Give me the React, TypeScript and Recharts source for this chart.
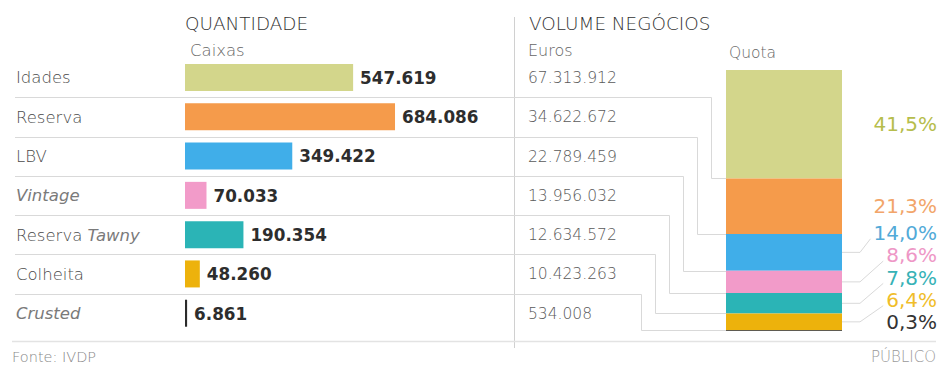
import React from 'react';
import { BarChart, Bar, XAxis, YAxis, Cell, LabelList } from 'recharts';

// ---------- data ----------
const categories = ['Idades', 'Reserva', 'LBV', 'Vintage', 'Reserva Tawny', 'Colheita', 'Crusted'];
const italicParts = ['', '', '', 'Vintage', 'Tawny', '', 'Crusted'];
const caixas = [547619, 684086, 349422, 70033, 190354, 48260, 6861];
const euros = [67313912, 34622672, 22789459, 13956032, 12634572, 10423263, 534008];
const quota = [41.5, 21.3, 14.0, 8.6, 7.8, 6.4, 0.3];

const barColors = ['#d3d68b', '#f59b4b', '#40aee9', '#f29bc9', '#2bb4b6', '#edb20c', '#2b2b2b'];
const pctColors = ['#b6bd4c', '#f2a56a', '#52aad8', '#ee97c6', '#37b2b6', '#f0bd2a', '#333333'];

// ---------- layout ----------
const W = 941;
const H = 367;
const ROW_TOP = 58;
const ROW_BOTTOM = 333;
const BAR_X0 = 185;
const RIGHT_AXIS_W = 449;
const X_MAX = 1000000;
const Q_LEFT = 726;
const Q_TOP = 70;
const Q_W = 116;
const Q_H = 261;
const FONT = '"DejaVu Sans", sans-serif';

const fmt = (n: number) => String(n).replace(/\B(?=(\d{3})+(?!\d))/g, '.');
const fmtPct = (v: number) => v.toFixed(1).replace('.', ',') + '%';

const rows = categories.map((c, i) => ({ name: c, caixas: caixas[i], euros: euros[i] }));
const quotaRow = [
  categories.reduce((acc: any, _c, i) => {
    acc['k' + i] = quota[i];
    return acc;
  }, { name: 'Quota' }),
];
const Q_SUM = quota.reduce((a, b) => a + b, 0);

const CatTick = (props: any) => {
  const { y, payload } = props;
  const name: string = payload.value;
  const i = categories.indexOf(name);
  const it = italicParts[i];
  let content: any = name;
  if (it) {
    const k = name.indexOf(it);
    content = (
      <>
        {k > 0 ? <tspan>{name.slice(0, k)}</tspan> : null}
        <tspan fontStyle="italic" fill="#7a7a7a">{it}</tspan>
        {name.slice(k + it.length) ? <tspan>{name.slice(k + it.length)}</tspan> : null}
      </>
    );
  }
  return (
    <text x={16} y={y} dy="0.35em" fontFamily={FONT} fontSize={16.5} fontWeight={200} fill="#4a4a4a" textAnchor="start">
      {content}
    </text>
  );
};

const EuroTick = (props: any) => {
  const { y, payload } = props;
  const i = categories.indexOf(payload.value);
  return (
    <text x={528} y={y} dy="0.35em" fontFamily={FONT} fontSize={15.5} fontWeight={200} fill="#5a5a5a" textAnchor="start">
      {fmt(euros[i])}
    </text>
  );
};

const BarValue = (p: any) => {
  const vb = p.viewBox || p;
  const x = (vb.x ?? p.x) + (vb.width ?? p.width);
  const y = (vb.y ?? p.y) + (vb.height ?? p.height) / 2;
  return (
    <text x={x + 7} y={y} dy="0.38em" fontFamily={FONT} fontSize={16.8} fontWeight={700} fill="#2d2d2d" textAnchor="start">
      {fmt(Number(p.value))}
    </text>
  );
};

const Overlay = () => {
  const band = (ROW_BOTTOM - ROW_TOP) / categories.length;
  const qy = (v: number) => Q_TOP + (v / Q_SUM) * Q_H;
  const cum: number[] = [];
  quota.reduce((a, b, i) => {
    cum[i] = a + b;
    return a + b;
  }, 0);
  const centers = quota.map((q, i) => qy(cum[i] - q / 2));
  const labelY: number[] = [];
  for (let i = quota.length - 1; i >= 0; i--) {
    if (i === quota.length - 1) labelY[i] = Math.min(centers[i], Q_TOP + Q_H - 9);
    else labelY[i] = Math.min(centers[i], labelY[i + 1] - 22.3);
  }
  const pctFont = 20;
  const charW = (ch: string) => (ch === ',' ? 0.318 : ch === '%' ? 0.95 : 0.636);
  const textW = (s: string) => s.split('').reduce((a, c) => a + charW(c), 0) * pctFont;
  const LABEL_X = 937;
  const lineColor = '#d9d9d9';

  return (
    <svg width={W} height={H} style={{ position: 'absolute', left: 0, top: 0, pointerEvents: 'none' }}>
      {/* headers */}
      <text x={185} y={24} dy="0.35em" fontFamily={FONT} fontSize={18.4} fontWeight={200} fill="#333">QUANTIDADE</text>
      <text x={190} y={50} dy="0.35em" fontFamily={FONT} fontSize={16.5} fontWeight={200} fill="#666">Caixas</text>
      <text x={529} y={24} dy="0.35em" fontFamily={FONT} fontSize={18.4} fontWeight={200} fill="#333">VOLUME NEGÓCIOS</text>
      <text x={528} y={50} dy="0.35em" fontFamily={FONT} fontSize={16} fontWeight={200} fill="#666">Euros</text>
      <text x={729} y={53} dy="0.35em" fontFamily={FONT} fontSize={15.5} fontWeight={200} fill="#666">Quota</text>

      {/* divider */}
      <line x1={514.5} x2={514.5} y1={17} y2={348} stroke="#d0d0d0" strokeWidth={1} />
      {/* bottom rule */}
      <line x1={12} x2={936} y1={341.5} y2={341.5} stroke="#e3e3e3" strokeWidth={1.5} />

      {/* row separators + connectors */}
      {categories.slice(0, categories.length - 1).map((c, i) => {
        const yb = Math.round(ROW_TOP + (i + 1) * band) + 0.5;
        const xv = 711 - i * 14 + 0.5;
        const ys = Math.round(qy(cum[i])) + 0.5;
        return (
          <path
            key={c}
            d={`M 15 ${yb} H ${xv} V ${ys} H ${Q_LEFT}`}
            fill="none"
            stroke={lineColor}
            strokeWidth={1}
          />
        );
      })}

      {/* percent labels & leaders */}
      {quota.map((q, i) => {
        const s = fmtPct(q);
        const w = textW(s);
        const shift = centers[i] - labelY[i];
        return (
          <g key={i}>
            {shift > 12 ? (
              <path
                d={`M ${Q_LEFT + Q_W} ${centers[i]} H ${Q_LEFT + Q_W + 18} L ${LABEL_X - w - 3} ${labelY[i] + 6}`}
                fill="none"
                stroke={lineColor}
                strokeWidth={1}
              />
            ) : null}
            <text x={LABEL_X} y={labelY[i]} dy="0.36em" fontFamily={FONT} fontSize={pctFont} fill={pctColors[i]} textAnchor="end">
              {s}
            </text>
          </g>
        );
      })}

      {/* footer */}
      <text x={12} y={357} dy="0.35em" fontFamily={FONT} fontSize={14.5} fontWeight={200} fill="#888">Fonte: IVDP</text>
      <text x={936} y={357} dy="0.35em" fontFamily={FONT} fontSize={15} fontWeight={200} fill="#999" textAnchor="end">PÚBLICO</text>
    </svg>
  );
};

export default function App() {
  return (
    <div style={{ position: 'absolute', left: 0, top: 0, width: W, height: H, background: '#fff', overflow: 'hidden' }}>
      <div style={{ position: 'absolute', left: 0, top: 0 }}>
        <BarChart
          layout="vertical"
          width={W}
          height={H}
          data={rows}
          margin={{ top: ROW_TOP, right: 0, bottom: H - ROW_BOTTOM, left: 0 }}
        >
          <XAxis type="number" domain={[0, X_MAX]} hide />
          <YAxis
            yAxisId="l"
            type="category"
            dataKey="name"
            width={BAR_X0}
            axisLine={false}
            tickLine={false}
            interval={0}
            tick={<CatTick />}
          />
          <YAxis
            yAxisId="r"
            orientation="right"
            type="category"
            dataKey="name"
            width={RIGHT_AXIS_W}
            axisLine={false}
            tickLine={false}
            interval={0}
            tick={<EuroTick />}
          />
          <Bar yAxisId="l" dataKey="caixas" barSize={27} isAnimationActive={false}>
            {rows.map((r, i) => (
              <Cell key={r.name} fill={barColors[i]} />
            ))}
            <LabelList dataKey="caixas" content={<BarValue />} />
          </Bar>
        </BarChart>
      </div>
      <div style={{ position: 'absolute', left: Q_LEFT, top: Q_TOP }}>
        <BarChart width={Q_W} height={Q_H} data={quotaRow} margin={{ top: 0, right: 0, bottom: 0, left: 0 }} barCategoryGap={0}>
          <XAxis dataKey="name" hide />
          <YAxis type="number" domain={[0, Q_SUM]} reversed hide />
          {categories.map((c, i) => (
            <Bar key={c} dataKey={'k' + i} stackId="q" fill={barColors[i]} isAnimationActive={false} />
          ))}
        </BarChart>
      </div>
      <Overlay />
    </div>
  );
}
